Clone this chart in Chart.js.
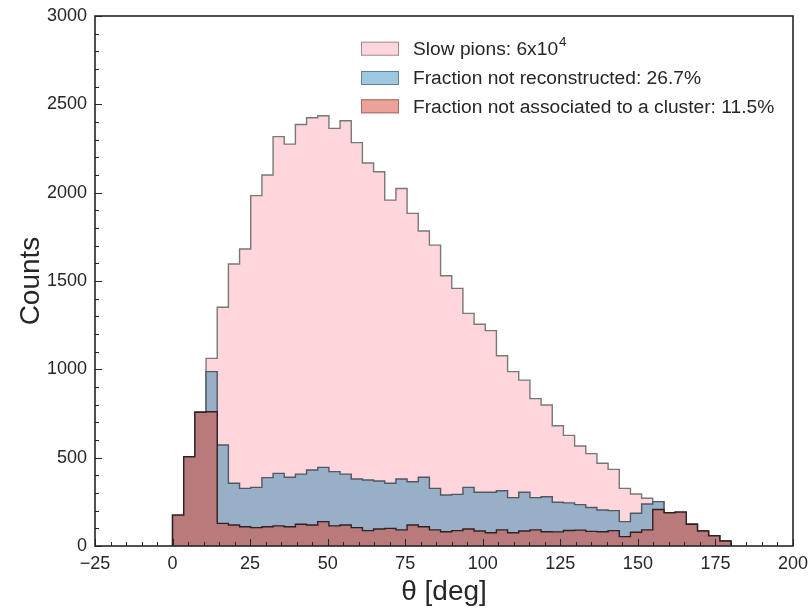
<!DOCTYPE html>
<html>
<head>
<meta charset="utf-8">
<script src="https://cdn.jsdelivr.net/npm/chart.js@4.4.1/dist/chart.umd.min.js"></script>
<style>
  body { margin: 0; background: #fff; }
  #wrap { width: 810px; height: 612px; }
</style>
</head>
<body>
<div id="wrap"><canvas id="myChart"></canvas></div>
<script>
// setup - histogram of slow pion polar angle, 50 bins from 0 to 180 deg
const binStart = 0;
const binWidth = 3.6;

// counts per bin
const slowPions = [
  175, 505, 757, 1062, 1351, 1596, 1681, 1983, 2100, 2317,
  2275, 2386, 2424, 2435, 2364, 2407, 2283, 2168, 2118, 1958,
  2024, 1883, 1783, 1703, 1530, 1458, 1317, 1255, 1219, 1077,
  987, 939, 834, 798, 681, 626, 566, 523, 468, 434,
  326, 294, 270, 251, 188, 192, 123, 85, 58, 28
];
const notReconstructed = [
  175, 505, 757, 987, 572, 355, 326, 332, 387, 411,
  389, 407, 430, 445, 421, 407, 379, 374, 368, 355,
  379, 364, 389, 326, 289, 292, 332, 304, 304, 313,
  274, 304, 274, 279, 248, 244, 234, 218, 204, 200,
  138, 185, 238, 251, 188, 192, 123, 85, 58, 28
];
const notAssociated = [
  175, 505, 757, 760, 128, 119, 109, 104, 109, 114,
  109, 123, 119, 138, 114, 119, 104, 87, 96, 100,
  91, 119, 109, 91, 81, 87, 96, 85, 75, 91,
  75, 85, 91, 81, 80, 88, 90, 83, 81, 87,
  53, 78, 91, 207, 188, 192, 123, 85, 58, 28
];

const legendLabels = [
  'Slow pions: 6x10',
  'Fraction not reconstructed: 26.7%',
  'Fraction not associated to a cluster: 11.5%'
];
const legendSup = ['4', '', ''];

const xTicks = [-25, 0, 25, 50, 75, 100, 125, 150, 175, 200];
const yTicks = [0, 500, 1000, 1500, 2000, 2500, 3000];

const FONT = "'Liberation Sans', Arial, Helvetica, sans-serif";

// turn bin counts into step outline points
const toSteps = (counts) => {
  const pts = [{ x: binStart, y: 0 }];
  counts.forEach((c, i) => pts.push({ x: binStart + i * binWidth, y: c }));
  const end = binStart + counts.length * binWidth;
  pts.push({ x: end, y: counts[counts.length - 1] });
  pts.push({ x: end, y: 0 });
  return pts;
};

const data = {
  datasets: [
    {
      label: legendLabels[0],
      data: toSteps(slowPions),
      backgroundColor: 'rgb(255, 214, 220)',
      borderColor: 'rgb(120, 120, 120)',
      order: 3
    },
    {
      label: legendLabels[1],
      data: toSteps(notReconstructed),
      backgroundColor: 'rgb(152, 175, 200)',
      borderColor: 'rgb(80, 88, 98)',
      order: 2
    },
    {
      label: legendLabels[2],
      data: toSteps(notAssociated),
      backgroundColor: 'rgb(185, 122, 124)',
      borderColor: 'rgb(48, 32, 32)',
      order: 1
    }
  ]
};
data.datasets.forEach(ds => {
  ds.fill = 'origin';
  ds.stepped = true;
  ds.borderWidth = 1.4;
  ds.pointRadius = 0;
  ds.tension = 0;
});

// legend patches use the plain (un-overlapped) colours
const legendFill = ['rgb(255, 214, 221)', 'rgb(156, 200, 225)', 'rgb(236, 162, 152)'];
const legendEdge = ['rgb(160, 140, 144)', 'rgb(100, 128, 150)', 'rgb(160, 110, 104)'];

// inward ticks, box frame and in-plot legend
const framePlugin = {
  id: 'frame',
  afterDraw(chart) {
    const { ctx, chartArea: a, scales: { x, y } } = chart;
    ctx.save();
    ctx.strokeStyle = '#262626';
    ctx.lineWidth = 1;
    ctx.beginPath();
    for (let v = -25; v <= 200; v += 5) {
      const px = Math.round(x.getPixelForValue(v)) + 0.5;
      const len = v % 25 === 0 ? 7 : 4;
      ctx.moveTo(px, a.bottom);
      ctx.lineTo(px, a.bottom - len);
    }
    for (let v = 0; v <= 3000; v += 100) {
      const py = Math.round(y.getPixelForValue(v)) + 0.5;
      const len = v % 500 === 0 ? 7 : 4;
      ctx.moveTo(a.left, py);
      ctx.lineTo(a.left + len, py);
    }
    ctx.stroke();
    ctx.lineWidth = 1.6;
    ctx.strokeRect(a.left, a.top, a.right - a.left, a.bottom - a.top);

    // legend
    const bx = 361, bw = 38, bh = 14;
    const rows = [48.7, 78.0, 106.3];
    ctx.textBaseline = 'middle';
    rows.forEach((cy, i) => {
      ctx.fillStyle = legendFill[i];
      ctx.fillRect(bx, cy - bh / 2, bw, bh);
      ctx.strokeStyle = legendEdge[i];
      ctx.lineWidth = 1;
      ctx.strokeRect(bx + 0.5, cy - bh / 2 + 0.5, bw - 1, bh - 1);
      ctx.fillStyle = '#262626';
      ctx.font = '19.2px ' + FONT;
      ctx.fillText(legendLabels[i], 413, cy + 1);
      if (legendSup[i]) {
        const w = ctx.measureText(legendLabels[i]).width;
        ctx.font = '13.5px ' + FONT;
        ctx.fillText(legendSup[i], 413 + w + 1, cy - 6);
      }
    });
    ctx.restore();
  }
};

// config
const config = {
  type: 'line',
  data,
  options: {
    responsive: false,
    animation: false,
    layout: { padding: { top: 16, right: 17, left: 0, bottom: 0 } },
    plugins: {
      legend: { display: false },
      tooltip: { enabled: false }
    },
    scales: {
      x: {
        type: 'linear',
        min: -25,
        max: 200,
        afterBuildTicks: (s) => { s.ticks = xTicks.map(v => ({ value: v })); },
        afterFit: (s) => { s.height = 66; s.paddingLeft = 0; s.paddingRight = 0; },
        grid: { display: false, drawTicks: false },
        border: { display: false },
        ticks: {
          color: '#262626',
          font: { family: FONT, size: 18 },
          padding: 7,
          maxRotation: 0,
          callback: (v) => String(v).replace('-', '\u2212')
        },
        title: {
          display: true,
          text: 'θ [deg]',
          color: '#262626',
          font: { family: FONT, size: 28 },
          padding: { top: 0, bottom: 3 }
        }
      },
      y: {
        type: 'linear',
        min: 0,
        max: 3000,
        afterBuildTicks: (s) => { s.ticks = yTicks.map(v => ({ value: v })); },
        afterFit: (s) => { s.width = 95; s.paddingTop = 0; s.paddingBottom = 0; },
        grid: { display: false, drawTicks: false },
        border: { display: false },
        ticks: {
          color: '#262626',
          font: { family: FONT, size: 18 },
          padding: 8,
          callback: (v) => String(v)
        },
        title: {
          display: true,
          text: 'Counts',
          color: '#262626',
          font: { family: FONT, size: 28 },
          padding: { top: 14, bottom: 0 }
        }
      }
    }
  },
  plugins: [framePlugin]
};

const canvas = document.getElementById('myChart');
canvas.width = 810;
canvas.height = 612;
const myChart = new Chart(canvas, config);
</script>
</body>
</html>
